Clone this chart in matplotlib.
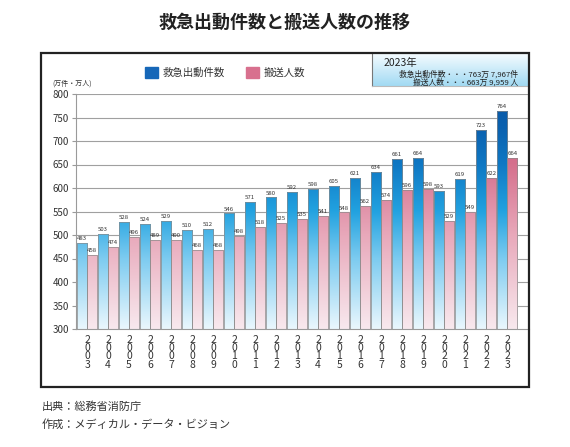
import numpy as np
import matplotlib
matplotlib.use("Agg")
import matplotlib.pyplot as plt
from matplotlib.colors import LinearSegmentedColormap, Normalize
from matplotlib.patches import Rectangle

plt.rcParams['font.family'] = ['Noto Sans CJK JP', 'DejaVu Sans']

years = list(range(2003, 2024))
dispatch = [483, 503, 528, 524, 529, 510, 512, 546, 571, 580, 592,
            598, 605, 621, 634, 661, 664, 593, 619, 723, 764]
transport = [458, 474, 496, 489, 490, 468, 468, 498, 518, 525, 535,
             541, 548, 562, 574, 596, 598, 529, 549, 622, 664]
yticks = [300, 350, 400, 450, 500, 550, 600, 650, 700, 750, 800]

W, H = 570, 447
def fx(p):
    return p / W
def fy(p):
    return 1 - p / H

blue_cm = LinearSegmentedColormap.from_list("b", [
    (0.0, "#eaf7fd"), (0.3, "#7ccbf0"), (0.5, "#22a2e0"),
    (0.7, "#0f78c4"), (0.85, "#0b62b0"), (1.0, "#0a56a4")])
pink_cm = LinearSegmentedColormap.from_list("p", [
    (0.0, "#f8e9ee"), (0.4, "#e8a8ba"), (0.7, "#d5708d"), (1.0, "#cb5a7c")])
norm = Normalize(300, 800)

fig = plt.figure(figsize=(5.7, 4.47), dpi=100)

# outer frame
fig.add_artist(Rectangle((fx(41), fy(387)), fx(529) - fx(41), fy(53) - fy(387),
                         transform=fig.transFigure, fill=False, lw=1.6, ec="#222222"))

ax = fig.add_axes([fx(76), fy(329), fx(529) - fx(76), fy(94) - fy(329)])

x = np.arange(len(years))
w = 0.48
grad = np.linspace(300, 800, 256).reshape(-1, 1)
b1 = ax.bar(x - 0.24, [d - 300 for d in dispatch], w, bottom=300,
            facecolor="none", edgecolor="#8a8a8a", lw=0.5, zorder=3)
b2 = ax.bar(x + 0.24, [t - 300 for t in transport], w, bottom=300,
            facecolor="none", edgecolor="#8a8a8a", lw=0.5, zorder=3)
for bars, cm in ((b1, blue_cm), (b2, pink_cm)):
    for p in bars:
        x0 = p.get_x()
        im = ax.imshow(grad, extent=(x0, x0 + p.get_width(), 300, 800), origin="lower",
                       cmap=cm, norm=norm, aspect="auto", zorder=2, interpolation="bilinear")
        im.set_clip_path(p)

for i in range(len(years)):
    ax.text(x[i] - 0.24, dispatch[i] + 4, str(dispatch[i]), ha="center", va="bottom",
            fontsize=4.3, color="#333333", zorder=4)
    ax.text(x[i] + 0.24, transport[i] + 4, str(transport[i]), ha="center", va="bottom",
            fontsize=4.3, color="#333333", zorder=4)

ax.set_xlim(-0.528, 21.04)
ax.set_ylim(300, 800)
ax.set_yticks(yticks)
ax.tick_params(axis="y", length=3, width=0.8, color="#9a9a9a", pad=2,
               labelsize=7, labelcolor="#333333")
for yv in yticks[1:]:
    ax.axhline(yv, color="#a0a0a0", lw=0.8, zorder=1)
ax.set_xticks(x, labels=["\n".join(str(y)) for y in years])
ax.tick_params(axis="x", length=0, pad=4, labelsize=7.5, labelcolor="#333333")
for lab in ax.get_xticklabels():
    lab.set_linespacing(0.8)
ax.spines["top"].set_visible(False)
ax.spines["left"].set_color("#9a9a9a")
ax.spines["bottom"].set_color("#9a9a9a")
ax.spines["right"].set_color("#222222")
ax.spines["right"].set_linewidth(1.2)

# title
fig.text(0.5, fy(22), "救急出動件数と搬送人数の推移", ha="center", va="center",
         fontsize=13, fontweight="bold", color="#222222")

# unit
fig.text(fx(52), fy(84), "(万件・万人)", ha="left", va="center", fontsize=5, color="#333333")

# legend
fig.add_artist(Rectangle((fx(145), fy(78)), fx(158) - fx(145), fy(67) - fy(78),
                         transform=fig.transFigure, color="#1667b8"))
fig.text(fx(163), fy(73), "救急出動件数", ha="left", va="center", fontsize=7.5, color="#333333")
fig.add_artist(Rectangle((fx(246), fy(78)), fx(259) - fx(246), fy(67) - fy(78),
                         transform=fig.transFigure, color="#d8708e"))
fig.text(fx(264), fy(73), "搬送人数", ha="left", va="center", fontsize=7.5, color="#333333")

# info box
bx = fig.add_axes([fx(372), fy(86), fx(529) - fx(372), fy(53) - fy(86)])
bx.imshow(np.linspace(0, 1, 64).reshape(-1, 1), aspect="auto", origin="upper",
          cmap=LinearSegmentedColormap.from_list("i", ["#f6fcff", "#a2daf3"]),
          extent=(0, 1, 0, 1))
bx.set_xticks([])
bx.set_yticks([])
for s in bx.spines.values():
    s.set_visible(False)
bx.spines["left"].set_visible(True)
bx.spines["left"].set_color("#777777")
bx.spines["bottom"].set_visible(True)
bx.spines["bottom"].set_color("#bbbbbb")
fig.text(fx(384), fy(62.5), "2023年", ha="left", va="center", fontsize=7.5, color="#222222")
fig.text(fx(518), fy(74), "救急出動件数・・・763万 7,967件", ha="right", va="center",
         fontsize=5.6, color="#222222")
fig.text(fx(518), fy(82.5), "搬送人数・・・663万 9,959 人", ha="right", va="center",
         fontsize=5.6, color="#222222")

# footer
fig.text(fx(42), fy(407), "出典：総務省消防庁", ha="left", va="center", fontsize=8, color="#333333")
fig.text(fx(42), fy(424), "作成：メディカル・データ・ビジョン", ha="left", va="center",
         fontsize=8, color="#333333")

fig.savefig("out.png", dpi=100)
